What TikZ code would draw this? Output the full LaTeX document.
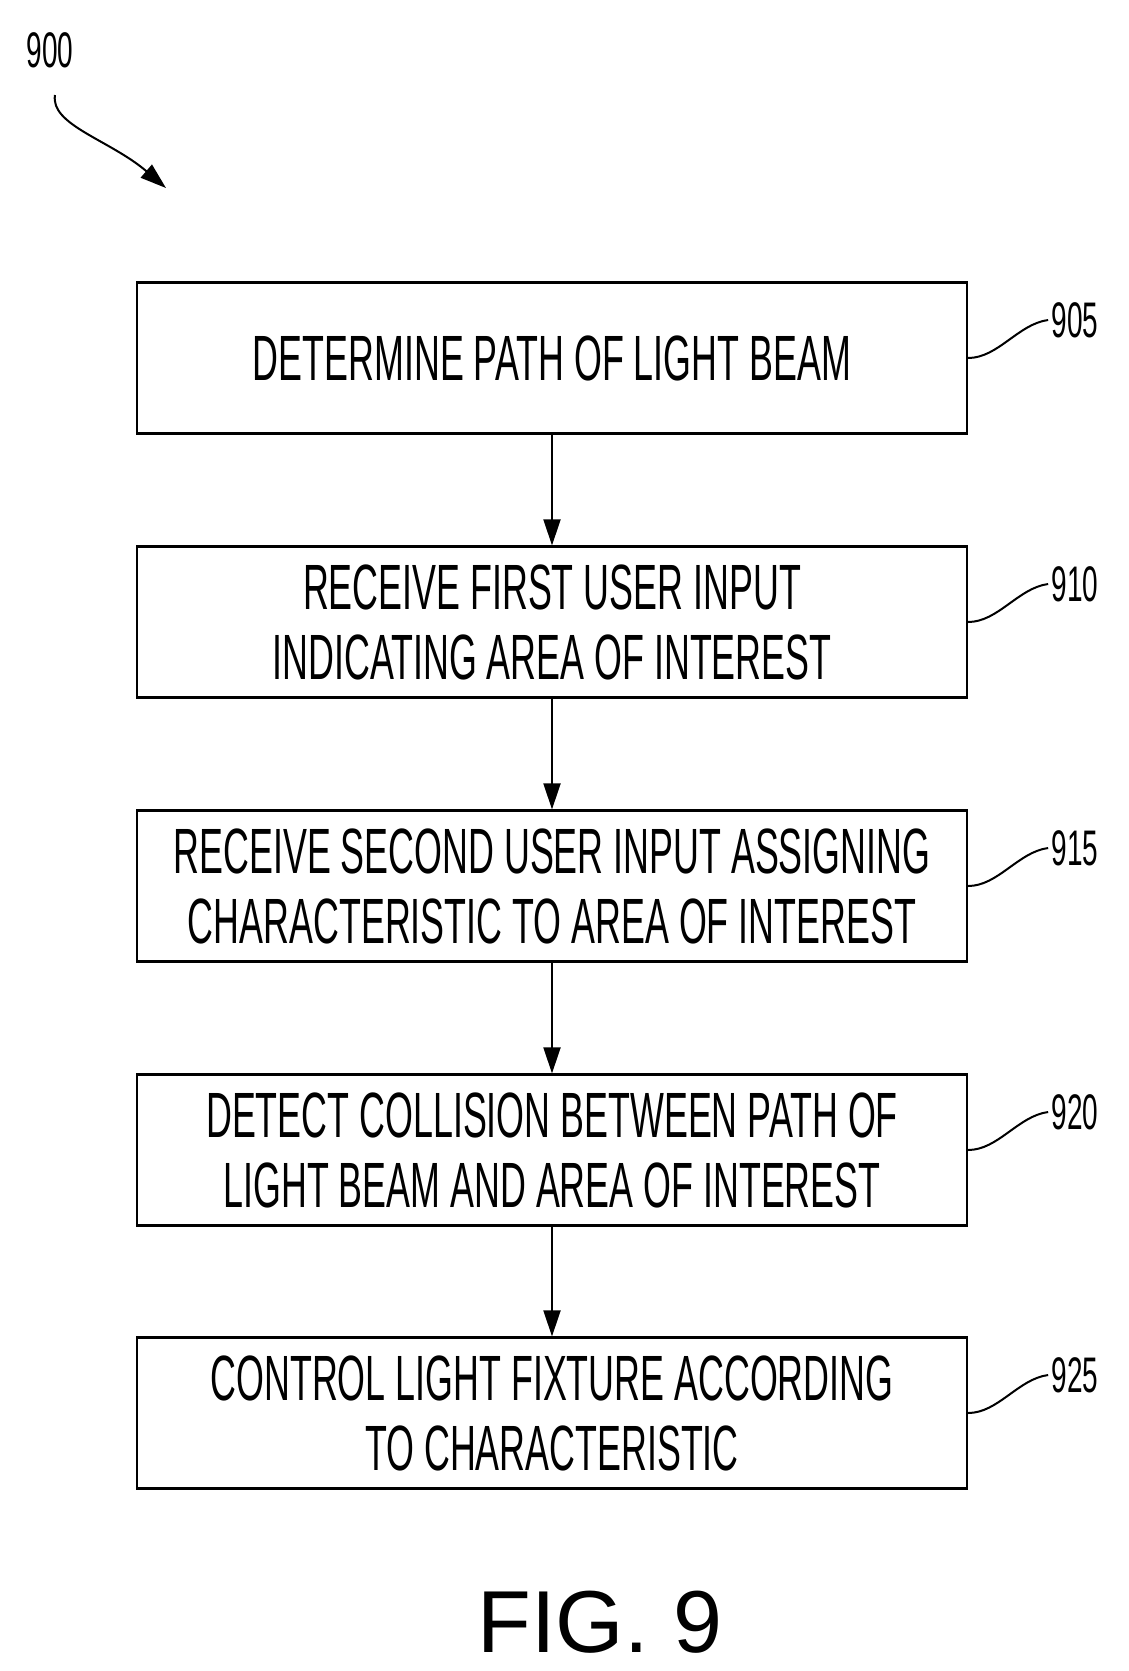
\documentclass[tikz,border=0pt]{standalone}
\usepackage{fontspec}
\setmainfont{Liberation Sans}[FakeStretch=0.56]
\newfontfamily\figfont{Liberation Sans}
\usetikzlibrary{arrows.meta}
\begin{document}
\begin{tikzpicture}[x=1pt,y=-1pt,
  box/.style={draw,line width=2.2pt,minimum width=830pt,minimum height=151pt,align=center,inner sep=0pt,
    font=\fontsize{64}{70}\selectfont},
  lab/.style={font=\fontsize{50}{50}\selectfont,anchor=west},
  arr/.style={line width=2pt,-{Triangle[length=26pt,width=17pt]}},
  sq/.style={line width=2pt}]
\useasboundingbox (0,0) rectangle (1129,1671);
\node[box] (b1) at (552,358) {DETERMINE PATH OF LIGHT BEAM};
\node[box] (b2) at (552,622) {RECEIVE FIRST USER INPUT\\INDICATING AREA OF INTEREST};
\node[box] (b3) at (552,886) {RECEIVE SECOND USER INPUT ASSIGNING\\CHARACTERISTIC TO AREA OF INTEREST};
\node[box] (b4) at (552,1150) {DETECT COLLISION BETWEEN PATH OF\\LIGHT BEAM AND AREA OF INTEREST};
\node[box] (b5) at (552,1413) {CONTROL LIGHT FIXTURE ACCORDING\\TO CHARACTERISTIC};
\foreach \a/\b in {b1/b2,b2/b3,b3/b4,b4/b5} \draw[arr] (\a.south) -- (\b.north);
\foreach \n/\t in {b1/905,b2/910,b3/915,b4/920,b5/925}{
  \node[lab] (l\t) at ([shift={(80pt,38pt)}]\n.east) {\t};
  \draw[sq] (\n.east) .. controls +(30pt,0pt) and +(-30pt,-4pt) .. (l\t.west);
}
\node[font=\fontsize{50}{50}\selectfont] (n900) at (50,50) {900};
\coordinate (a900) at (166,188);
\draw[line width=2pt,-{Triangle[length=26pt,width=17pt]}] (55,95) .. controls (50,125) and (110,140) .. (a900);
\node[font=\figfont\fontsize{88}{88}\selectfont] (fig) at (600,1622) {FIG. 9};
\end{tikzpicture}
\end{document}
